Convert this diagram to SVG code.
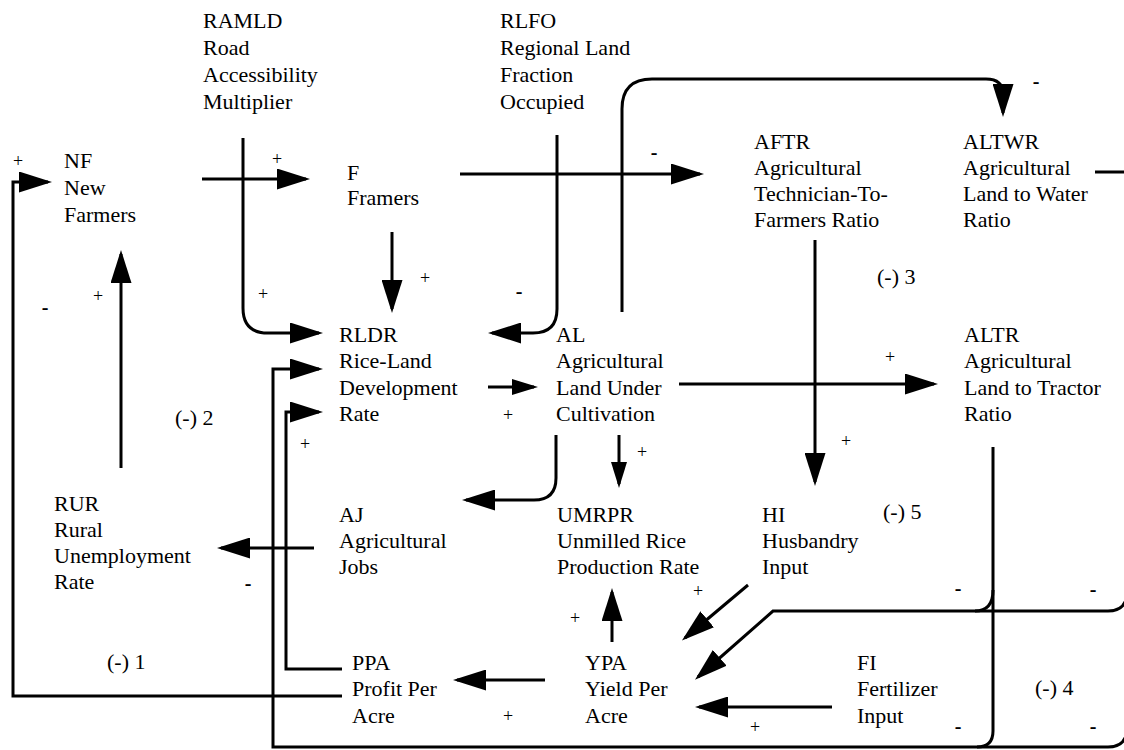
<svg xmlns="http://www.w3.org/2000/svg" width="1124" height="750" viewBox="0 0 1124 750">
<style>
.t{font-family:"Liberation Serif","Times New Roman",serif;font-size:22px;fill:#000}
.p{font-family:"Liberation Serif","Times New Roman",serif;font-size:18px;fill:#000;text-anchor:middle}
.m{font-family:"Liberation Serif","Times New Roman",serif;font-size:20px;font-weight:bold;fill:#000;text-anchor:middle}
.c{fill:none;stroke:#000;stroke-width:3}
.a{marker-end:url(#ah)}
.s{marker-end:url(#as)}
</style>
<defs>
<marker id="ah" viewBox="0 0 33 21" refX="29" refY="10.5" markerWidth="33" markerHeight="21" orient="auto" markerUnits="userSpaceOnUse"><path d="M0,0 L33,10.5 L0,21 Z" fill="#000"/></marker>
<marker id="as" viewBox="0 0 26 16" refX="22" refY="8" markerWidth="26" markerHeight="16" orient="auto" markerUnits="userSpaceOnUse"><path d="M0,0 L26,8 L0,16 Z" fill="#000"/></marker>
</defs>
<rect width="1124" height="750" fill="#fff"/>
<g id="connectors">
<path class="c a" d="M342,696 H13 V182 H48"/>
<path class="c a" d="M121,468 V254"/>
<path class="c a" d="M202,179 H306"/>
<path class="c a" d="M243,138 V308 Q243,333 268,333 H319"/>
<path class="c a" d="M392,232 V309"/>
<path class="c a" d="M460,174 H700"/>
<path class="c a" d="M557,135 V309 Q557,333 533,333 H492"/>
<path class="c a" d="M622,312 V109 Q622,79 652,79 H986 Q1003,79 1003,94 V113"/>
<path class="c s" d="M488,387 H534"/>
<path class="c a" d="M679,384 H934"/>
<path class="c a" d="M815,240 V482"/>
<path class="c s" d="M619,435 V484"/>
<path class="c a" d="M556,435 V478 Q556,500 534,500 H466"/>
<path class="c a" d="M314,548 H221"/>
<path class="c a" d="M612,642 V592"/>
<path class="c a" d="M748,585 L685,638"/>
<path class="c a" d="M545,680 H457"/>
<path class="c a" d="M832,707 H699"/>
<path class="c a" d="M342,669 H286 V412 H319"/>
<path class="c a" d="M1127,731 Q1125,747 1108,747 H273 V369 H319"/>
<path class="c" d="M993,447 V731 Q993,747 977,747"/>
<path class="c a" d="M1127,595 Q1125,611 1108,611 H773 L698,677"/>
<path class="c" d="M993,590 Q993,611 975,611"/>
<path class="c" d="M1095,172 H1130"/>
</g>
<g id="signs">
<text class="p" x="18" y="167">+</text>
<text class="p" x="277" y="165">+</text>
<text class="p" x="263" y="300">+</text>
<text class="p" x="425" y="284">+</text>
<text class="p" x="98" y="302">+</text>
<text class="p" x="305" y="450">+</text>
<text class="p" x="508" y="421">+</text>
<text class="p" x="890" y="363">+</text>
<text class="p" x="846" y="447">+</text>
<text class="p" x="642" y="458">+</text>
<text class="p" x="698" y="597">+</text>
<text class="p" x="575" y="624">+</text>
<text class="p" x="755" y="733">+</text>
<text class="p" x="508" y="722">+</text>
<text class="m" x="654" y="159">-</text>
<text class="m" x="1036" y="88">-</text>
<text class="m" x="519" y="298">-</text>
<text class="m" x="45" y="314">-</text>
<text class="m" x="248" y="590">-</text>
<text class="m" x="958" y="595">-</text>
<text class="m" x="1093" y="596">-</text>
<text class="m" x="958" y="733">-</text>
<text class="m" x="1093" y="733">-</text>
</g>
<g id="loops">
<text class="t" x="107" y="669">(-) 1</text>
<text class="t" x="175" y="425">(-) 2</text>
<text class="t" x="877" y="284">(-) 3</text>
<text class="t" x="1035" y="695">(-) 4</text>
<text class="t" x="883" y="519">(-) 5</text>
</g>
<g id="RAMLD"><text class="t"><tspan x="203" y="28">RAMLD</tspan><tspan x="203" y="55">Road</tspan><tspan x="203" y="82">Accessibility</tspan><tspan x="203" y="109">Multiplier</tspan></text></g>
<g id="RLFO"><text class="t"><tspan x="500" y="28">RLFO</tspan><tspan x="500" y="55">Regional Land</tspan><tspan x="500" y="82">Fraction</tspan><tspan x="500" y="109">Occupied</tspan></text></g>
<g id="NF"><text class="t"><tspan x="64" y="168">NF</tspan><tspan x="64" y="195">New</tspan><tspan x="64" y="222">Farmers</tspan></text></g>
<g id="F"><text class="t"><tspan x="347" y="180">F</tspan><tspan x="347" y="205">Framers</tspan></text></g>
<g id="AFTR"><text class="t"><tspan x="754" y="149">AFTR</tspan><tspan x="754" y="175">Agricultural</tspan><tspan x="754" y="201">Technician-To-</tspan><tspan x="754" y="227">Farmers Ratio</tspan></text></g>
<g id="ALTWR"><text class="t"><tspan x="963" y="149">ALTWR</tspan><tspan x="963" y="175">Agricultural</tspan><tspan x="963" y="201">Land to Water</tspan><tspan x="963" y="227">Ratio</tspan></text></g>
<g id="RLDR"><text class="t"><tspan x="339" y="342">RLDR</tspan><tspan x="339" y="368">Rice-Land</tspan><tspan x="339" y="395">Development</tspan><tspan x="339" y="421">Rate</tspan></text></g>
<g id="AL"><text class="t"><tspan x="556" y="342">AL</tspan><tspan x="556" y="368">Agricultural</tspan><tspan x="556" y="395">Land Under</tspan><tspan x="556" y="421">Cultivation</tspan></text></g>
<g id="ALTR"><text class="t"><tspan x="964" y="342">ALTR</tspan><tspan x="964" y="368">Agricultural</tspan><tspan x="964" y="395">Land to Tractor</tspan><tspan x="964" y="421">Ratio</tspan></text></g>
<g id="RUR"><text class="t"><tspan x="54" y="511">RUR</tspan><tspan x="54" y="537">Rural</tspan><tspan x="54" y="563">Unemployment</tspan><tspan x="54" y="589">Rate</tspan></text></g>
<g id="AJ"><text class="t"><tspan x="339" y="522">AJ</tspan><tspan x="339" y="548">Agricultural</tspan><tspan x="339" y="574">Jobs</tspan></text></g>
<g id="UMRPR"><text class="t"><tspan x="557" y="522">UMRPR</tspan><tspan x="557" y="548">Unmilled Rice</tspan><tspan x="557" y="574">Production Rate</tspan></text></g>
<g id="HI"><text class="t"><tspan x="762" y="522">HI</tspan><tspan x="762" y="548">Husbandry</tspan><tspan x="762" y="574">Input</tspan></text></g>
<g id="PPA"><text class="t"><tspan x="352" y="670">PPA</tspan><tspan x="352" y="696">Profit Per</tspan><tspan x="352" y="723">Acre</tspan></text></g>
<g id="YPA"><text class="t"><tspan x="585" y="670">YPA</tspan><tspan x="585" y="696">Yield Per</tspan><tspan x="585" y="723">Acre</tspan></text></g>
<g id="FI"><text class="t"><tspan x="857" y="670">FI</tspan><tspan x="857" y="696">Fertilizer</tspan><tspan x="857" y="723">Input</tspan></text></g>
</svg>
